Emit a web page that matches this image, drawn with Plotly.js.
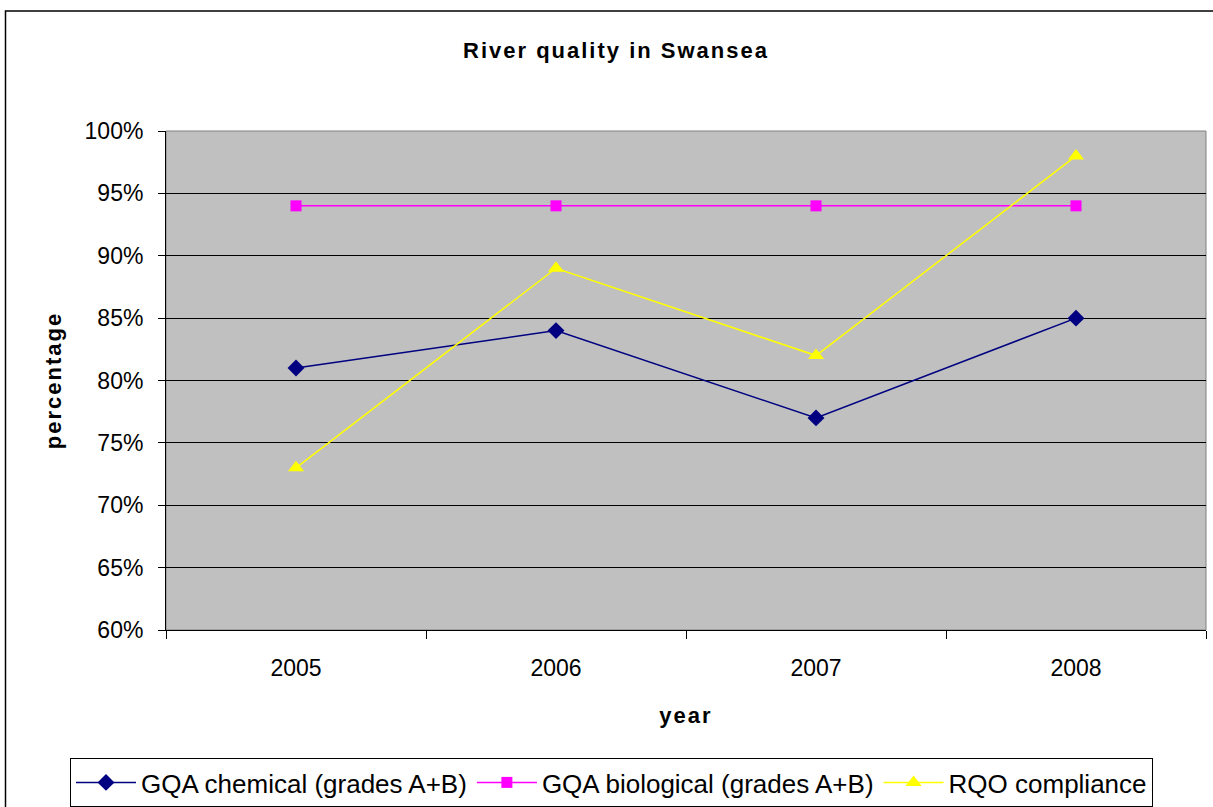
<!DOCTYPE html>
<html>
<head>
<meta charset="utf-8">
<script src="https://cdn.plot.ly/plotly-3.0.1.min.js"></script>
<style>
html,body{margin:0;padding:0;background:#fff;}
#chart{width:1213px;height:807px;}
#chart .gtitle, #chart .xtitle, #chart .ytitle {letter-spacing: 2px;}
</style>
</head>
<body>
<div id="chart"></div>
<script>
const years = ["2005", "2006", "2007", "2008"];
const gqaChemical = [0.81, 0.84, 0.77, 0.85];
const gqaBiological = [0.94, 0.94, 0.94, 0.94];
const rqoCompliance = [0.73, 0.89, 0.82, 0.98];
const seriesNames = ["GQA chemical (grades A+B)", "GQA biological (grades A+B)", "RQO compliance"];
const yTicks = [0.60, 0.65, 0.70, 0.75, 0.80, 0.85, 0.90, 0.95, 1.00];

const font = "Liberation Sans, Arial, sans-serif";

const traces = [
  {x: years, y: gqaChemical, name: seriesNames[0], type: "scatter", mode: "lines+markers",
   line: {color: "#000080", width: 1.5}, marker: {symbol: "diamond", size: 13, color: "#000080"}},
  {x: years, y: gqaBiological, name: seriesNames[1], type: "scatter", mode: "lines+markers",
   line: {color: "#FF00FF", width: 1.5}, marker: {symbol: "square", size: 11, color: "#FF00FF"}},
  {x: years, y: rqoCompliance, name: seriesNames[2], type: "scatter", mode: "lines+markers",
   line: {color: "#FFFF00", width: 1.5}, marker: {symbol: "triangle-up", size: 14, color: "#FFFF00"}}
];

const L = 166, R = 1206, T = 131, B = 630;
const px = v => (v - L) / (R - L);
const py = v => (B - v) / (B - T);

const layout = {
  width: 1213, height: 807,
  margin: {l: L, r: 1213 - R, t: T, b: 807 - B, pad: 0, autoexpand: false},
  paper_bgcolor: "#FFFFFF",
  plot_bgcolor: "#C0C0C0",
  font: {family: font, size: 23, color: "#000"},
  title: {text: "<b>River quality in Swansea</b>", font: {family: font, size: 22, color: "#000"},
          x: 616 / 1213, xanchor: "center", xref: "container", y: 1 - 50 / 807, yanchor: "middle", yref: "container"},
  showlegend: true,
  legend: {orientation: "h", x: px(70), xanchor: "left", y: py(758), yanchor: "top",
           bgcolor: "#FFFFFF", bordercolor: "#000", borderwidth: 1,
           font: {family: font, size: 26, color: "#000"}, itemwidth: 60, tracegroupgap: 0},
  xaxis: {type: "category", range: [-0.5, 3.5], tickson: "boundaries", ticks: "outside", ticklen: 8, tickcolor: "#000",
          showline: true, linecolor: "#000", linewidth: 1, showgrid: false, zeroline: false,
          ticklabelstandoff: 17,
          tickfont: {family: font, size: 23, color: "#000"},
          title: {text: "<b>year</b>", font: {family: font, size: 22, color: "#000"}, standoff: 28},
          fixedrange: true},
  yaxis: {range: [0.60, 1.00], tickvals: yTicks, tickformat: ".0%", ticks: "outside", ticklen: 7,
          tickcolor: "#000", showline: true, linecolor: "#000", linewidth: 1,
          showgrid: true, gridcolor: "#000", gridwidth: 1, zeroline: false,
          ticklabelstandoff: 10,
          tickfont: {family: font, size: 23, color: "#000"},
          title: {text: "<b>percentage</b>", font: {family: font, size: 22, color: "#000"}, standoff: 16},
          fixedrange: true},
  shapes: [
    {type: "rect", xref: "paper", yref: "paper", x0: 0, x1: 1, y0: 0, y1: 1,
     line: {color: "#808080", width: 1}, layer: "below"},
    {type: "rect", xref: "paper", yref: "paper", x0: px(5.5), x1: px(1300), y0: py(11), y1: py(900),
     line: {color: "#000", width: 1.5}, layer: "below"}
  ]
};

Plotly.newPlot("chart", traces, layout, {displayModeBar: false, staticPlot: true});
</script>
</body>
</html>
